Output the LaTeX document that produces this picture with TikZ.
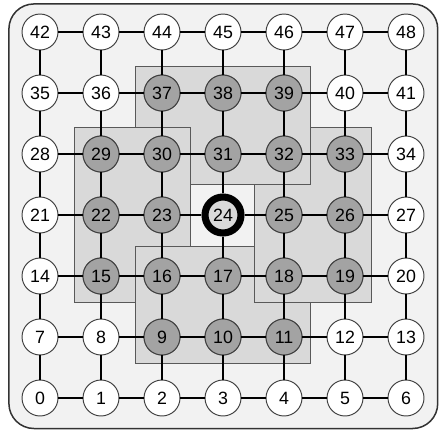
\documentclass[tikz,border=0pt]{standalone}
\usepackage{fontspec}
\setmainfont{Liberation Sans}
\usepackage{tikz}
\definecolor{bggray}{HTML}{F2F2F2}
\definecolor{blockgray}{HTML}{D9D9D9}
\definecolor{takengray}{HTML}{A3A3A3}
\definecolor{rimgray}{HTML}{404040}

\begin{document}
\begin{tikzpicture}[x=1cm, y=1cm,
    vertex/.style={circle, draw=rimgray, line width=0.45pt, fill=white, inner sep=0pt,
                   minimum size=0.59cm, font=\fontsize{8.3}{9}\selectfont},
    taken/.style={vertex, fill=takengray},
    link/.style={line width=0.9pt},
    blockline/.style={draw=black!65, line width=0.45pt}]
    \useasboundingbox (-0.656,-0.525) rectangle (6.541,6.525);

    % frame
    \filldraw[fill=bggray, draw=black!80, line width=0.7pt, rounded corners=0.41cm]
        (-0.51,-0.5) rectangle (6.52,6.46);

    % four blocks (pinwheel)
    \fill[blockgray] (1.56,3.5) rectangle (4.44,5.44);
    \fill[blockgray] (0.56,1.56) rectangle (2.46,4.44);
    \fill[blockgray] (1.56,0.56) rectangle (4.44,2.49);
    \fill[blockgray] (3.52,1.56) rectangle (5.44,4.44);
    \fill[bggray] (2.46,2.49) rectangle (3.52,3.5);
    \draw[blockline] (1.56,4.44) -- (1.56,5.44) -- (4.44,5.44) -- (4.44,3.5) -- (2.46,3.5);
    \draw[blockline] (2.46,2.49) -- (2.46,4.44) -- (0.56,4.44) -- (0.56,1.56) -- (1.56,1.56);
    \draw[blockline] (3.52,2.49) -- (1.56,2.49) -- (1.56,0.56) -- (4.44,0.56) -- (4.44,1.56);
    \draw[blockline] (4.44,4.44) -- (5.44,4.44) -- (5.44,1.56) -- (3.52,1.56) -- (3.52,3.5);

    % nodes
    \foreach \k in {0,...,48} {
        \pgfmathtruncatemacro\c{mod(\k,7)}
        \pgfmathtruncatemacro\r{div(\k,7)}
        \node[vertex] (n\k) at (\c,\r) {\k};
    }
    \foreach \k in {9,10,11,15,16,17,18,19,22,23,25,26,29,30,31,32,33,37,38,39}
        \node[taken] (n\k) at (n\k.center) {\k};
    \node[vertex, fill=blockgray, draw=black, line width=3.3pt] (n24) at (3,3) {24};

    % links
    \foreach \r in {0,...,6}
        \foreach \c in {0,...,5} {
            \pgfmathtruncatemacro\a{7*\r+\c}
            \pgfmathtruncatemacro\b{\a+1}
            \draw[link] (n\a) -- (n\b);
        }
    \foreach \r in {0,...,5}
        \foreach \c in {0,...,6} {
            \pgfmathtruncatemacro\a{7*\r+\c}
            \pgfmathtruncatemacro\b{\a+7}
            \draw[link] (n\a) -- (n\b);
        }
\end{tikzpicture}
\end{document}
